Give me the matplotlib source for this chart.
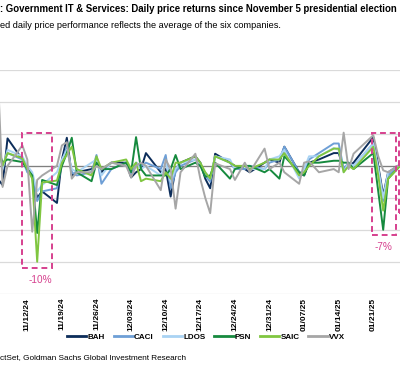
import datetime as dt
import matplotlib
matplotlib.use("Agg")
import matplotlib.pyplot as plt
import matplotlib.dates as mdates
from matplotlib.patches import Rectangle

plt.rcParams['font.family'] = ['Liberation Sans', 'DejaVu Sans']

# trading days after the Nov 5 election
dates = ["2024-11-06", "2024-11-07", "2024-11-08", "2024-11-11", "2024-11-12", "2024-11-13",
         "2024-11-14", "2024-11-15", "2024-11-18", "2024-11-19", "2024-11-20", "2024-11-21",
         "2024-11-22", "2024-11-25", "2024-11-26", "2024-11-27", "2024-11-29", "2024-12-02",
         "2024-12-03", "2024-12-04", "2024-12-05", "2024-12-06", "2024-12-09", "2024-12-10",
         "2024-12-11", "2024-12-12", "2024-12-13", "2024-12-16", "2024-12-17", "2024-12-18",
         "2024-12-19", "2024-12-20", "2024-12-23", "2024-12-24", "2024-12-26", "2024-12-27",
         "2024-12-30", "2024-12-31", "2025-01-02", "2025-01-03", "2025-01-06", "2025-01-07",
         "2025-01-08", "2025-01-10", "2025-01-13", "2025-01-14", "2025-01-15", "2025-01-16",
         "2025-01-17", "2025-01-21", "2025-01-22", "2025-01-23", "2025-01-24", "2025-01-27"]

bah = [-2.0, -3.0, 4.3, 1.0, -0.5, -1.5, -5.0, -4.0, -5.8, 1.0, 4.4, -1.5,
       -1.0, -0.5, 0.5, -1.0, 0.5, 0.5, -1.8, -1.0, -0.5, 2.0, -1.0, -0.5,
       -4.8, -0.5, 0.5, 1.5, 0.5, -2.0, -3.5, 1.9, 0.5, 0.0, -0.5, -1.0,
       0.5, 1.0, 0.5, 3.0, -1.0, -1.5, 0.5, 1.0, 2.0, 2.0, -0.5, 0.0,
       0.5, 4.5, 0.0, -4.6, -1.0, 0.5]
caci = [3.0, 0.0, 2.0, 1.0, -1.0, -1.5, -5.5, -4.0, -3.5, 0.5, 3.0, -1.0,
        -1.5, -1.0, 1.7, -2.8, -0.5, 0.5, -1.5, 0.5, 0.0, 0.5, -0.5, 1.7,
        -3.5, -1.0, 0.0, 1.0, 0.5, -1.5, -2.5, 1.5, 0.5, -0.5, -0.5, 0.0,
        -0.5, 0.5, 1.0, 3.0, -1.0, -1.0, 1.0, 2.0, 3.5, 3.5, -0.5, 0.5,
        0.0, 3.5, -0.5, -5.5, -1.5, 0.5]
ldos = [4.0, -0.5, 2.5, 1.5, 0.0, -1.0, -4.0, -3.0, -1.0, 1.0, 2.5, -0.5,
        -1.0, 0.5, 1.0, -1.5, 0.5, 0.0, -0.5, 0.5, -0.5, 0.0, -1.5, 0.5,
        -2.5, -0.5, 0.5, 1.0, 0.0, -1.0, -2.0, 1.5, 1.0, -0.5, 0.0, -0.5,
        -0.5, 1.0, 1.5, 2.5, -2.0, -0.5, 1.5, 1.5, 2.8, 2.5, -1.0, 0.5,
        0.0, 3.5, -0.5, -5.0, -1.0, 0.5]
psn = [3.0, 0.5, 1.0, 0.6, -0.5, -1.5, -10.5, -2.2, -3.0, 0.0, 2.0, 4.4,
       -1.0, -2.4, 0.5, -0.5, -0.5, 0.5, -1.0, 4.5, -0.5, -1.5, -1.5, -1.5,
       -0.5, 1.7, -0.5, 0.5, 0.0, -1.7, -1.5, 0.5, -2.0, -0.5, 0.0, 0.0,
       -1.0, -0.5, -2.0, 1.5, -1.0, -1.5, 0.5, 0.5, 0.8, 0.8, 0.5, 0.5,
       -0.5, 2.0, -4.0, -10.0, -2.0, 0.5]
saic = [3.0, 0.0, 2.0, 1.2, -0.5, -2.0, -15.0, -2.6, -2.3, 0.5, 1.8, 3.0,
        -0.5, -1.5, 1.5, -0.5, 0.5, 1.0, -0.5, 0.5, -2.4, -2.0, -2.4, -1.0,
        -2.0, 0.5, 0.5, 1.5, 0.5, -1.0, -2.0, 1.5, 0.5, 0.0, 0.0, -0.5,
        0.5, 1.0, 1.0, 2.0, -1.5, -1.0, 0.0, 1.5, 2.7, 2.7, -1.0, 0.0,
        -0.5, 3.0, -1.5, -7.0, -2.0, 0.5]
vvx = [15.0, -3.3, 0.0, 3.2, 1.0, -10.3, -2.2, -1.5, 0.0, 3.2, 3.7, -2.0,
       -1.0, -1.0, 0.0, -0.5, 0.5, 0.0, -1.8, 0.0, 0.5, 0.0, -3.8, 1.0,
       -0.5, -6.7, -1.0, 1.9, -2.0, -5.0, -7.4, 0.4, -0.5, -2.2, 0.5, -1.0,
       2.7, -0.5, 0.5, -1.0, -2.8, 0.5, 0.7, -1.0, -0.5, -1.0, 5.2, -0.5,
       1.9, 4.8, 1.5, -0.7, -1.0, 0.5]

names = ["BAH", "CACI", "LDOS", "PSN", "SAIC", "VVX"]
colors = ["#0c2d5a", "#6e9fd6", "#a9d3f3", "#168a3e", "#80c640", "#a6a6a6"]

# highlighted windows and their average move
boxes = [("2024-11-10 22:00", "2024-11-17", -16.0, 5.1),
         ("2025-01-20 18:00", "2025-01-25 14:00", -10.8, 5.1),
         ("2025-01-26 06:00", "2025-02-03", -7.4, 5.1)]
box_labels = [("2024-11-14 14:00", -17.8, "-10%"), ("2025-01-23 02:00", -12.7, "-7%")]

pink = "#d6408e"

fig = plt.figure(figsize=(4.0, 3.7), dpi=100)
ax = fig.add_axes([0, 1 - 293.7 / 370, 1, (293.7 - 70) / 370])

x = [dt.datetime.fromisoformat(d) for d in dates]
for vals, name, c in zip([bah, caci, ldos, psn, saic, vvx], names, colors):
    ax.plot(x, vals, color=c, lw=1.4, label=name, solid_joinstyle='round')

ax.axhline(0, color="#7f7f7f", lw=0.9, zorder=1)

for x0, x1, y0, y1 in boxes:
    a = mdates.date2num(dt.datetime.fromisoformat(x0))
    b = mdates.date2num(dt.datetime.fromisoformat(x1))
    ax.add_patch(Rectangle((a, y0), b - a, y1 - y0, fill=False, ec=pink, lw=1.4,
                           ls=(0, (3, 2)), zorder=5))
for xd, yv, t in box_labels:
    ax.text(dt.datetime.fromisoformat(xd), yv, t, color=pink, fontsize=7.2,
            ha='center', va='center')

ref = mdates.date2num(dt.datetime(2024, 11, 12))
ppd = 4.943
ax.set_xlim(ref - 27.3 / ppd, ref + (400 - 27.3) / ppd)
ax.set_ylim(-20, 15)
ax.set_yticks(range(-20, 16, 5))
ax.yaxis.grid(True, color="#dadada", lw=0.9)
ax.set_axisbelow(True)
ticks = [dt.datetime(2024, 11, 12) + dt.timedelta(days=7 * i) for i in range(11)]
ax.set_xticks(ticks)
ax.xaxis.set_major_formatter(mdates.DateFormatter('%m/%d/%y'))
ax.tick_params(axis='x', length=0, pad=3, labelrotation=90, labelsize=6)
ax.tick_params(axis='y', length=0, labelleft=False)
for lab in ax.get_xticklabels():
    lab.set_fontweight('bold')
for s in ax.spines.values():
    s.set_visible(False)

leg = fig.legend(loc='center', bbox_to_anchor=(0.515, 1 - 337 / 370), ncol=6, frameon=False,
                 handlelength=2.4, handletextpad=0.15, columnspacing=1.1,
                 prop={'size': 5.8, 'weight': 'bold'})
for h in leg.get_lines():
    h.set_linewidth(2.0)

fig.text(0, 1 - 9 / 370, ": Government IT & Services: Daily price returns since November 5 presidential election",
         fontsize=6.9, fontweight='bold', ha='left', va='center')
fig.text(0, 1 - 25 / 370, "ed daily price performance reflects the average of the six companies.",
         fontsize=6.6, ha='left', va='center')
fig.text(0, 1 - 358 / 370, "ctSet, Goldman Sachs Global Investment Research",
         fontsize=5.85, ha='left', va='center')

fig.savefig("out.png", dpi=100, facecolor='white')
